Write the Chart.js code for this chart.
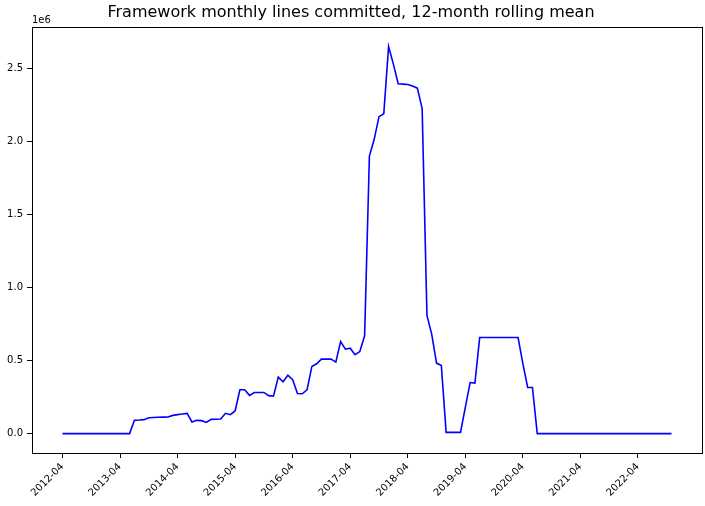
<!DOCTYPE html>
<html>
<head>
<meta charset="utf-8">
<script src="https://cdn.jsdelivr.net/npm/chart.js@4.4.0/dist/chart.umd.min.js"></script>
<style>
  body { margin: 0; background: #fff; }
  canvas { display: block; }
</style>
</head>
<body>
<canvas id="chart" width="705" height="506"></canvas>
<script>
// month index 0 = 2012-04, last point = 2022-11
var tickMonths = [0, 12, 24, 36, 48, 60, 72, 84, 96, 108, 120];
var tickLabels = ['2012-04', '2013-04', '2014-04', '2015-04', '2016-04', '2017-04',
                  '2018-04', '2019-04', '2020-04', '2021-04', '2022-04'];
var yTicks = [0, 500000, 1000000, 1500000, 2000000, 2500000];

// 12-month rolling mean of lines committed
var linesMean = [
  0, 0, 0, 0, 0, 0, 0, 0, 0, 0, 0, 0, 0, 0, 0,
  91000, 93000, 96000, 109000, 111000, 112000, 113000, 114000, 125000, 130000,
  134000, 139000, 80000, 91000, 89000, 77000, 98000, 99000, 100000, 139000,
  130000, 155000, 300000, 300000, 262000, 282000, 282000, 282000, 260000, 257000,
  387000, 355000, 400000, 369000, 275000, 273000, 300000, 460000, 478000, 510000,
  510000, 510000, 490000, 630000, 578000, 585000, 540000, 562000, 670000, 1900000,
  2015000, 2170000, 2190000, 2650000, 2530000, 2395000, 2393000, 2390000, 2380000, 2365000,
  2225000, 810000, 680000, 483000, 467000, 9000, 9000, 9000, 9000, 180000,
  350000, 346000, 658000, 658000, 658000, 658000, 658000, 658000, 658000, 658000,
  658000, 480000, 316000, 316000,
  0, 0, 0, 0, 0, 0, 0, 0, 0, 0, 0, 0, 0, 0, 0, 0, 0, 0, 0, 0,
  0, 0, 0, 0, 0, 0, 0, 0, 0
];

var points = linesMean.map(function(v, i){ return {x: i, y: v}; });

var FONT = 'DejaVu Sans';

// frame around the axes and the offset text
var framePlugin = {
  id: 'frame',
  afterDraw: function(chart){
    var ctx = chart.ctx, a = chart.chartArea;
    ctx.save();
    ctx.strokeStyle = '#000';
    ctx.lineWidth = 1;
    ctx.strokeRect(Math.round(a.left) + 0.5, Math.round(a.top) + 0.5,
                   Math.round(a.right - a.left), Math.round(a.bottom - a.top));
    ctx.fillStyle = '#000';
    ctx.font = '10px "' + FONT + '"';
    ctx.textAlign = 'left';
    ctx.textBaseline = 'alphabetic';
    ctx.fillText('1e6', a.left, a.top - 4);
    ctx.restore();
  }
};

new Chart(document.getElementById('chart'), {
  type: 'line',
  data: {
    datasets: [{
      data: points,
      borderColor: '#0000ff',
      borderWidth: 1.6,
      pointRadius: 0,
      fill: false,
      tension: 0
    }]
  },
  options: {
    responsive: false,
    animation: false,
    devicePixelRatio: 1,
    layout: { padding: { left: 0, right: 3, top: 0, bottom: 0 } },
    plugins: {
      legend: { display: false },
      tooltip: { enabled: false },
      title: {
        display: true,
        text: 'Framework monthly lines committed, 12-month rolling mean',
        color: '#000',
        font: { family: FONT, size: 16, weight: 'normal' },
        padding: { top: 3, bottom: 5 }
      }
    },
    scales: {
      x: {
        type: 'linear',
        min: -6.35,
        max: 133.35,
        afterBuildTicks: function(s){ s.ticks = tickMonths.map(function(v){ return {value: v}; }); },
        afterFit: function(s){ s.height = 53; s.paddingLeft = 0; s.paddingRight = 0; },
        grid: { drawOnChartArea: false, color: '#000', tickLength: 5 },
        border: { display: true, color: '#000' },
        ticks: {
          autoSkip: false,
          minRotation: 45,
          maxRotation: 45,
          color: '#000',
          padding: 3,
          font: { family: FONT, size: 10 },
          callback: function(v){ var k = tickMonths.indexOf(v); return k >= 0 ? tickLabels[k] : ''; }
        }
      },
      y: {
        min: -132500,
        max: 2782500,
        afterBuildTicks: function(s){ s.ticks = yTicks.map(function(v){ return {value: v}; }); },
        afterFit: function(s){ s.width = 32; s.paddingTop = 0; s.paddingBottom = 0; },
        grid: { drawOnChartArea: false, color: '#000', tickLength: 5 },
        border: { display: true, color: '#000' },
        ticks: {
          color: '#000',
          padding: 4,
          font: { family: FONT, size: 10 },
          callback: function(v){ return (v / 1e6).toFixed(1); }
        }
      }
    }
  },
  plugins: [framePlugin]
});
</script>
</body>
</html>
